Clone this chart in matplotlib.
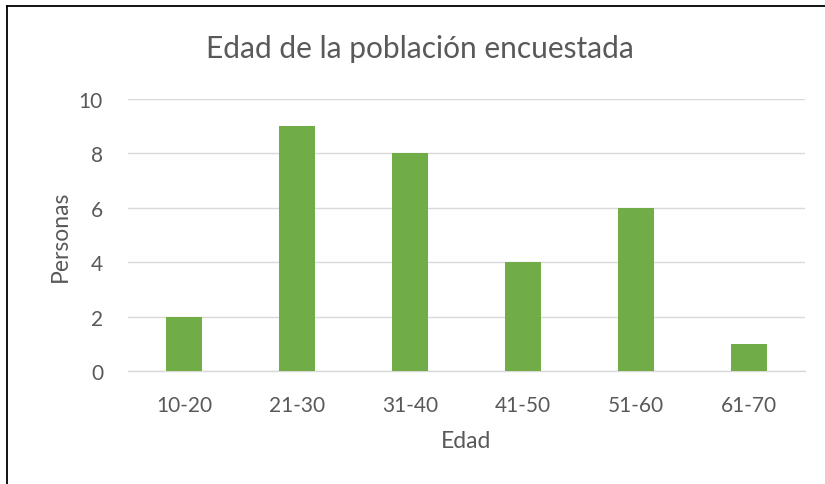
import matplotlib
matplotlib.use("Agg")
import matplotlib.pyplot as plt
from matplotlib.lines import Line2D

categories = ["10-20", "21-30", "31-40", "41-50", "51-60", "61-70"]
values = [2, 9, 8, 4, 6, 1]
yticks = [0, 2, 4, 6, 8, 10]

plt.rcParams['font.family'] = ['Lato', 'DejaVu Sans']
txt = '#595959'

fig = plt.figure(figsize=(8.25, 4.85), dpi=100)
ax = fig.add_axes([128/825, 113/485, 677/825, 272/485])
x = range(len(categories))
ax.bar(x, values, width=0.32, color='#70AD47', zorder=3)
ax.set_xlim(-0.5, len(categories) - 0.5)
ax.set_ylim(0, 10)
ax.set_yticks(yticks)
ax.set_xticks(list(x))
ax.set_xticklabels(categories)
ax.grid(axis='y', color='#d9d9d9', linewidth=1.0, zorder=0)
ax.grid(axis='x', visible=False)
for s in ['top', 'right', 'left']:
    ax.spines[s].set_visible(False)
ax.spines['bottom'].set_color('#d9d9d9')
ax.spines['bottom'].set_linewidth(1.0)
ax.tick_params(axis='both', length=0, colors=txt, labelsize=15)
ax.tick_params(axis='y', pad=18)
ax.tick_params(axis='x', pad=17)
ax.set_xlabel("Edad", color=txt, fontsize=16.5, labelpad=11)
ax.set_ylabel("Personas", color=txt, fontsize=16.5, labelpad=6)

fig.text(420/825, 1 - 49/485, "Edad de la población encuestada", ha='center', va='center',
         color=txt, fontsize=21.5)

# border lines (left and top)
fig.add_artist(Line2D([6.5/825, 6.5/825], [0, 1 - 6.5/485], transform=fig.transFigure, color='black', lw=1.3))
fig.add_artist(Line2D([6.5/825, 1], [1 - 6.5/485, 1 - 6.5/485], transform=fig.transFigure, color='black', lw=1.3))

fig.savefig("out.png", dpi=100)
